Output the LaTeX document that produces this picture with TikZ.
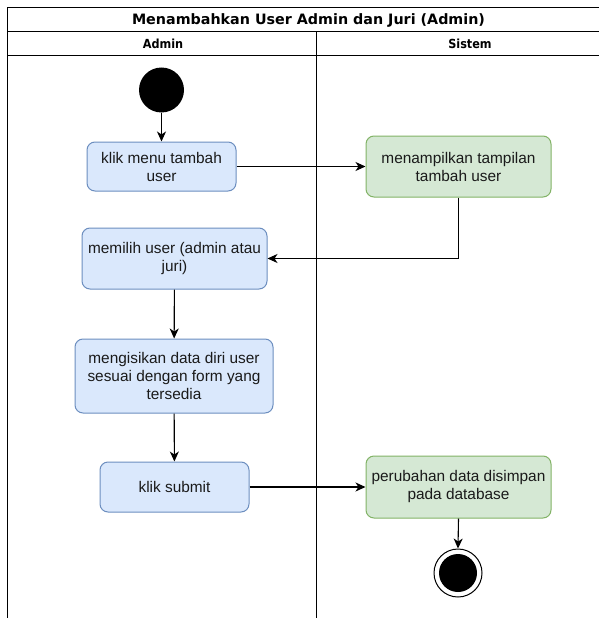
\documentclass[tikz,border=0pt]{standalone}
\usepackage{fontspec}
\setmainfont{Liberation Sans}
\newfontfamily\headfont{DejaVu Sans}
\newfontfamily\laneheadfont{DejaVu Sans Condensed}
\usetikzlibrary{arrows.meta}
\definecolor{actblue}{HTML}{DAE8FC}
\definecolor{actbluedraw}{HTML}{6C8EBF}
\definecolor{actgreen}{HTML}{D5E8D4}
\definecolor{actgreendraw}{HTML}{82B366}
\definecolor{txt}{HTML}{1A1A1A}
\begin{document}
\begin{tikzpicture}[x=1pt,y=-1pt,
  frameline/.style={draw=black,line width=1pt},
  useract/.style={draw=actbluedraw,fill=actblue,line width=1pt,rounded corners=8pt,
    align=center,inner sep=0pt,text=txt,font=\fontsize{15.4}{18}\selectfont},
  sysact/.style={draw=actgreendraw,fill=actgreen,line width=1pt,rounded corners=8pt,
    align=center,inner sep=0pt,text=txt,font=\fontsize{15.4}{18}\selectfont},
  flow/.style={draw=black,line width=1.1pt,-{Stealth[length=10pt,width=9pt,inset=3pt]}},
  lanehead/.style={font=\laneheadfont\bfseries\fontsize{12.5}{14}\selectfont,inner sep=0pt}
]
\useasboundingbox (0,0) rectangle (599,618);

% swimlane frame
\draw[frameline] (7,618) -- (7,8) -- (599,8);
\draw[frameline] (7,32) -- (599,32);
\draw[frameline] (7,56) -- (599,56);
\draw[frameline] (316,32) -- (316,618);

\node[font=\headfont\bfseries\fontsize{14.3}{16}\selectfont,inner sep=0pt] (title) at (308.5,20) {Menambahkan User Admin dan Juri (Admin)};
\node[lanehead] (laneA) at (163,44) {Admin};
\node[lanehead] (laneS) at (470,44) {Sistem};

% start and end states
\node[circle,fill=black,minimum size=45pt,inner sep=0pt] (start) at (161.5,90) {};
\node[circle,draw=black,line width=1pt,fill=white,minimum size=48pt,inner sep=0pt] (stop) at (458,573) {};
\node[circle,fill=black,minimum size=38pt,inner sep=0pt] (stopdot) at (458,573) {};

% activities
\node[useract,minimum width=149pt,minimum height=49pt] (a1) at (161.5,166.5) {klik menu tambah\\user};
\node[sysact,minimum width=185pt,minimum height=61pt] (s1) at (458.5,166.5) {menampilkan tampilan\\tambah user};
\node[useract,minimum width=185pt,minimum height=61pt] (a2) at (174.5,258.5) {memilih user (admin atau\\juri)};
\node[useract,minimum width=198pt,minimum height=74pt] (a3) at (174,376) {mengisikan data diri user\\sesuai dengan form yang\\tersedia};
\node[useract,minimum width=149pt,minimum height=50pt] (a4) at (174.5,487) {klik submit};
\node[sysact,minimum width=185pt,minimum height=62pt] (s2) at (458.5,487) {perubahan data disimpan\\pada database};

% transitions
\draw[flow] (start) -- (a1);
\draw[flow] (a1) -- (s1);
\draw[flow] (s1.south) |- (a2.east);
\draw[flow] (a2) -- (a3);
\draw[flow] (a3) -- (a4);
\draw[flow] (a4) -- (s2);
\draw[flow] (s2.south) -- (stop.north);
\end{tikzpicture}
\end{document}
